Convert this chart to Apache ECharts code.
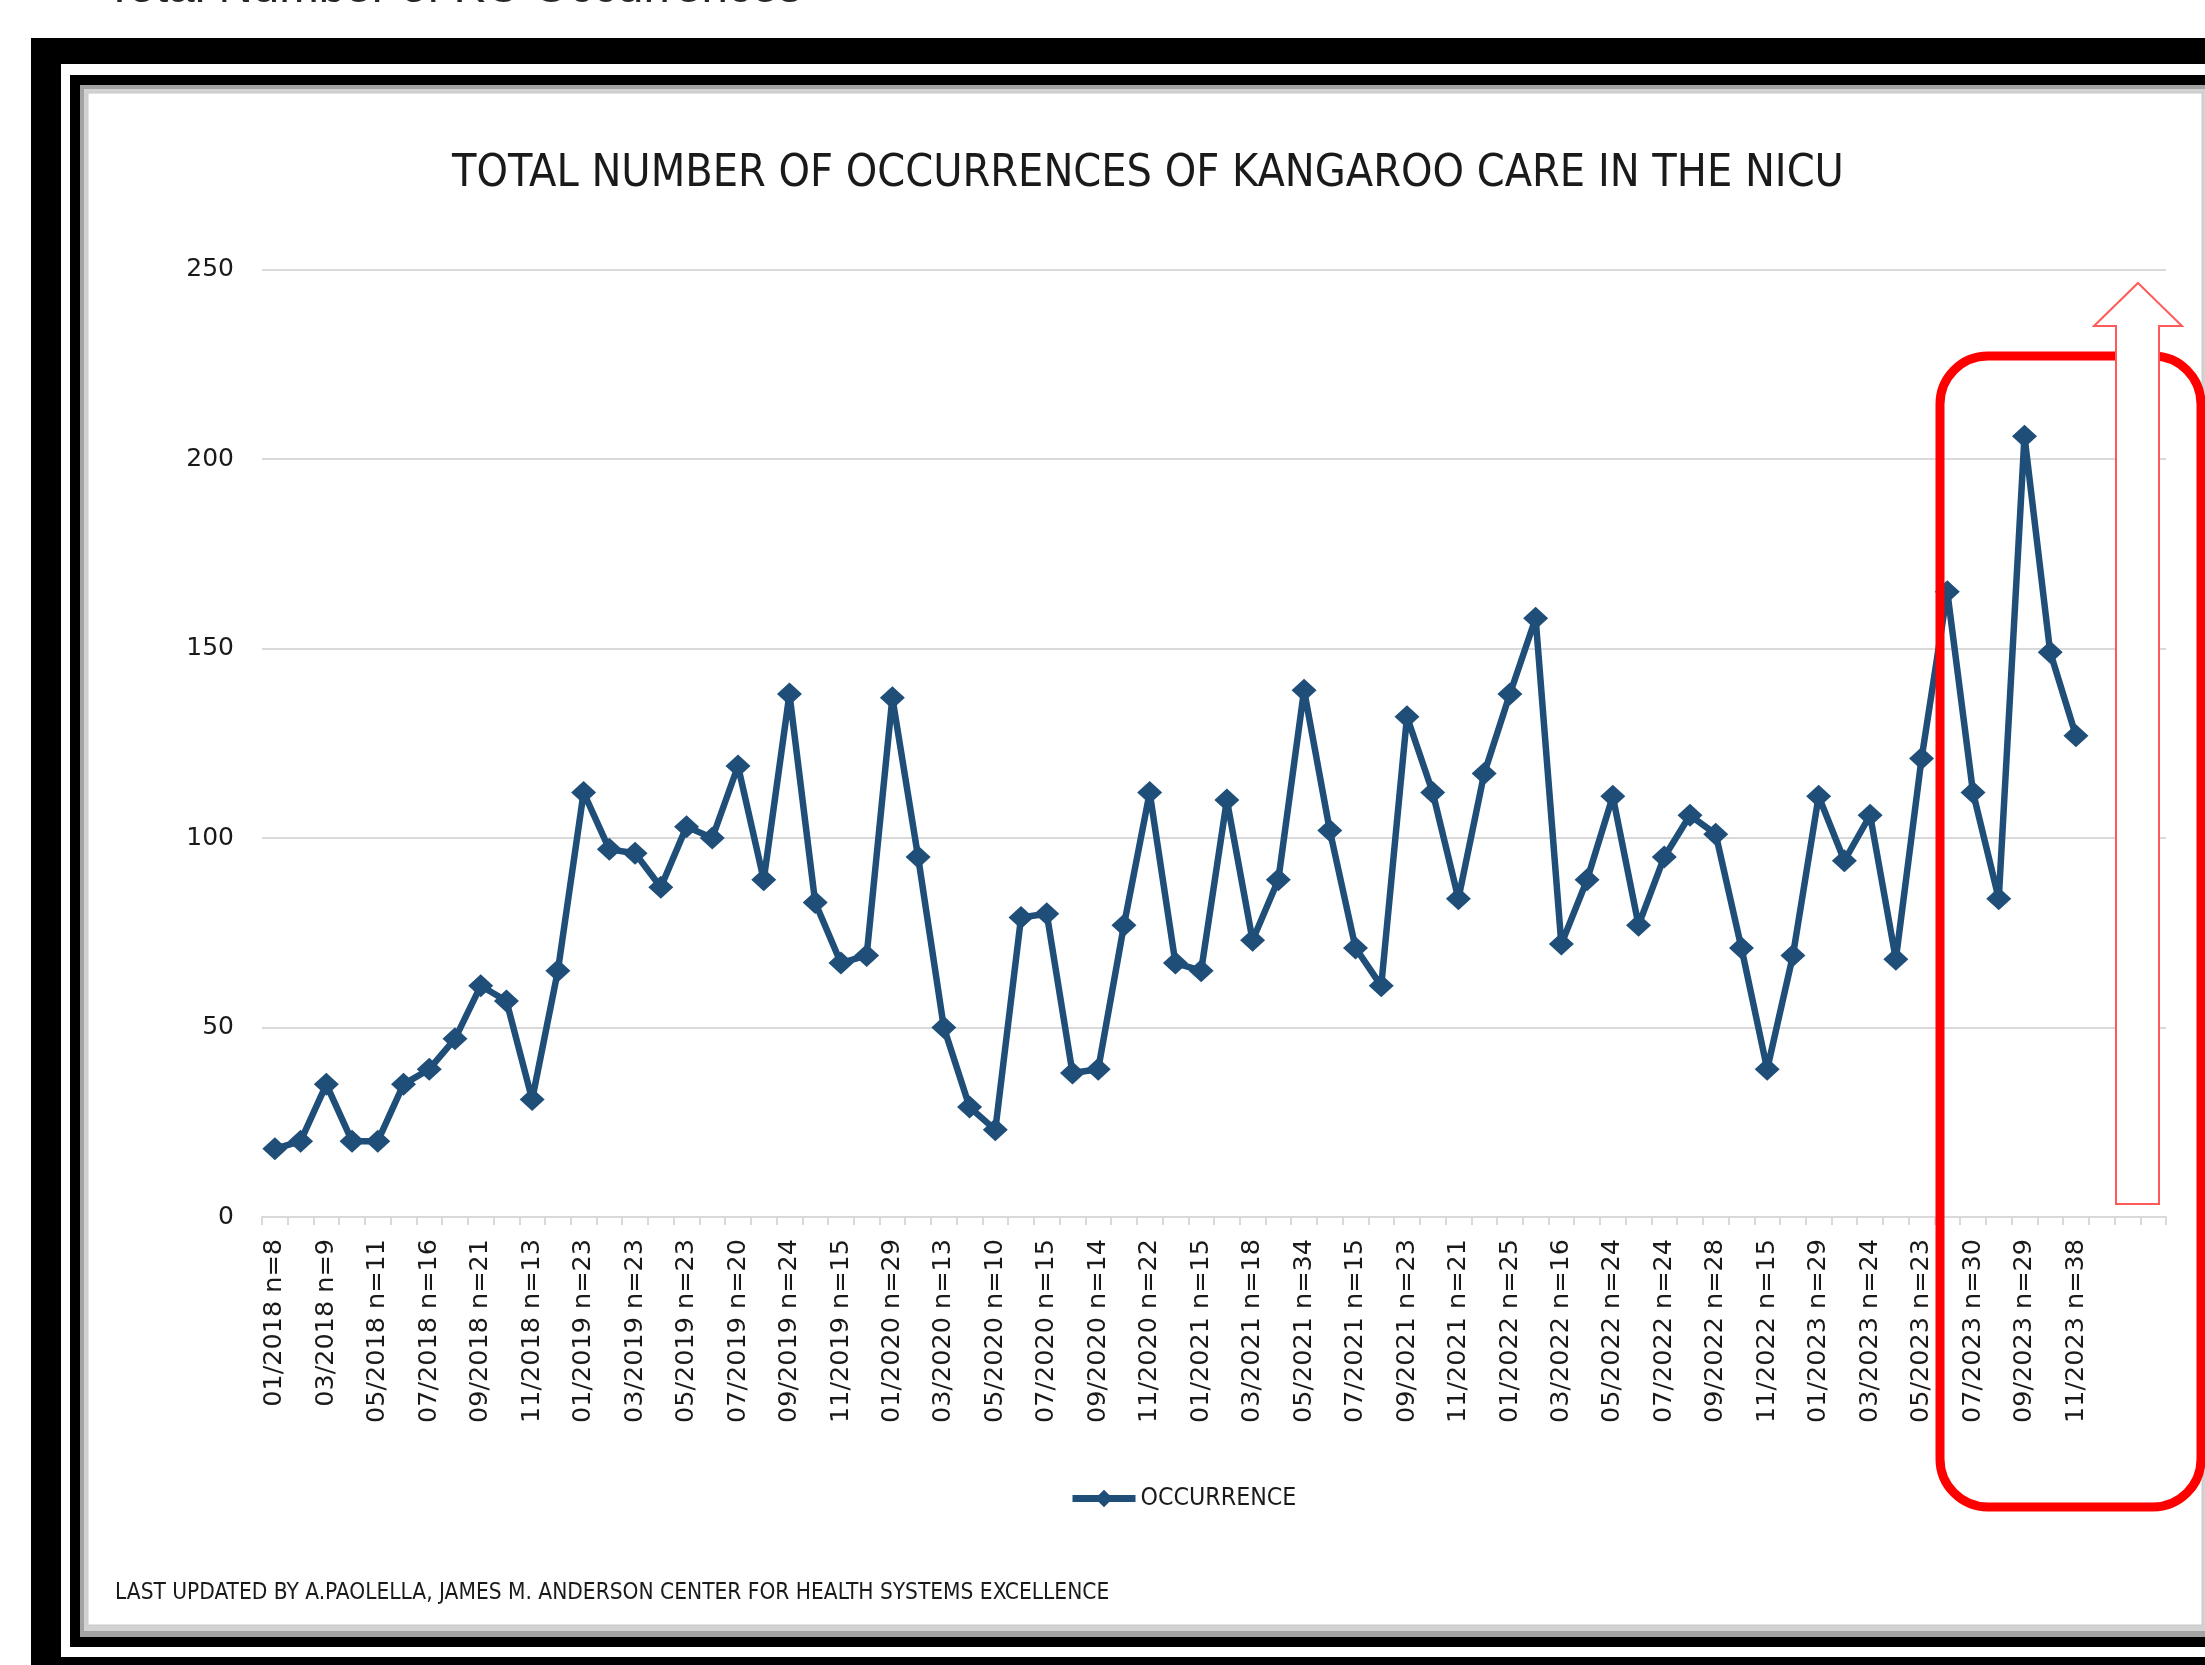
<!DOCTYPE html>
<html>
<head>
<meta charset="utf-8">
<script src="https://cdn.jsdelivr.net/npm/echarts@6/dist/echarts.min.js"></script>
<style>
html,body{margin:0;padding:0;background:#fff;}
#chart{width:2205px;height:1665px;}
</style>
</head>
<body>
<div id="chart"></div>
<script>
// ---- Data ----
const categories = [
'01/2018 n=8','02/2018','03/2018 n=9','04/2018','05/2018 n=11','06/2018','07/2018 n=16','08/2018','09/2018 n=21','10/2018','11/2018 n=13','12/2018',
'01/2019 n=23','02/2019','03/2019 n=23','04/2019','05/2019 n=23','06/2019','07/2019 n=20','08/2019','09/2019 n=24','10/2019','11/2019 n=15','12/2019',
'01/2020 n=29','02/2020','03/2020 n=13','04/2020','05/2020 n=10','06/2020','07/2020 n=15','08/2020','09/2020 n=14','10/2020','11/2020 n=22','12/2020',
'01/2021 n=15','02/2021','03/2021 n=18','04/2021','05/2021 n=34','06/2021','07/2021 n=15','08/2021','09/2021 n=23','10/2021','11/2021 n=21','12/2021',
'01/2022 n=25','02/2022','03/2022 n=16','04/2022','05/2022 n=24','06/2022','07/2022 n=24','08/2022','09/2022 n=28','10/2022','11/2022 n=15','12/2022',
'01/2023 n=29','02/2023','03/2023 n=24','04/2023','05/2023 n=23','06/2023','07/2023 n=30','08/2023','09/2023 n=29','10/2023','11/2023 n=38',
' ','  ','   '
];
const occurrence = [
18, 20, 35, 20, 20, 35, 39, 47, 61, 57, 31, 65,
112, 97, 96, 87, 103, 100, 119, 89, 138, 83, 67, 69,
137, 95, 50, 29, 23, 79, 80, 38, 39, 77, 112, 67,
65, 110, 73, 89, 139, 102, 71, 61, 132, 112, 84, 117,
138, 158, 72, 89, 111, 77, 95, 106, 101, 71, 39, 69,
111, 94, 106, 68, 121, 165, 112, 84, 206, 149, 127
];
const yTicks = {min: 0, max: 250, interval: 50};
const seriesName = 'OCCURRENCE';
const titleText = 'TOTAL NUMBER OF OCCURRENCES OF KANGAROO CARE IN THE NICU';
const footerText = 'LAST UPDATED BY A.PAOLELLA, JAMES M. ANDERSON CENTER FOR HEALTH SYSTEMS EXCELLENCE';
const headerText = 'Total Number of KC Occurrences';

// ---- Styling ----
const narrow = '"Liberation Sans Narrow", "DejaVu Sans Condensed", "Roboto Condensed", sans-serif';
const axisFont = '"DejaVu Sans", Verdana, sans-serif';
const lineColor = '#1f4e79';

const chart = echarts.init(document.getElementById('chart'), null, {renderer: 'canvas'});
chart.setOption({
  animation: false,
  backgroundColor: '#ffffff',
  title: {
    text: titleText,
    left: 1143,
    top: 147,
    textAlign: 'center',
    textStyle: {fontFamily: narrow, fontSize: 44.5, fontWeight: 'normal', color: '#1a1a1a'}
  },
  legend: {
    data: [seriesName],
    left: 1064,
    top: 1481,
    itemWidth: 63,
    itemHeight: 22,
    itemGap: 10,
    lineStyle: {width: 7},
    textStyle: {fontFamily: narrow, fontSize: 24.7, color: '#1a1a1a'}
  },
  grid: {left: 262, right: 39, top: 269.5, bottom: 448, containLabel: false},
  xAxis: {
    type: 'category',
    data: categories,
    boundaryGap: true,
    axisLine: {show: true, lineStyle: {color: '#d9d9d9', width: 2}},
    axisTick: {show: true, interval: 0, length: 8, lineStyle: {color: '#d9d9d9', width: 2}},
    axisLabel: {
      interval: 1, rotate: 90, margin: 22,
      fontFamily: axisFont, fontSize: 25.5, color: '#1a1a1a', hideOverlap: false
    },
    splitLine: {show: false}
  },
  yAxis: {
    type: 'value',
    min: yTicks.min, max: yTicks.max, interval: yTicks.interval,
    axisLine: {show: false},
    axisTick: {show: false},
    axisLabel: {margin: 28, fontFamily: axisFont, fontSize: 25, color: '#1a1a1a'},
    splitLine: {show: true, lineStyle: {color: '#d9d9d9', width: 2}}
  },
  series: [{
    name: seriesName,
    type: 'line',
    data: occurrence,
    symbol: 'diamond',
    symbolSize: [25, 23],
    showAllSymbol: true,
    lineStyle: {color: lineColor, width: 6.5},
    itemStyle: {color: lineColor, borderWidth: 0},
    z: 5
  }],
  graphic: [
    {type: 'rect', silent: true, z: -10, shape: {x: 31, y: 38, width: 2300, height: 1700}, style: {fill: '#000'}},
    {type: 'rect', silent: true, z: -9, shape: {x: 61, y: 64, width: 2300, height: 1593}, style: {fill: '#fff'}},
    {type: 'rect', silent: true, z: -8, shape: {x: 70, y: 75, width: 2300, height: 1572}, style: {fill: '#000'}},
    {type: 'rect', silent: true, z: -7, shape: {x: 80, y: 85, width: 2300, height: 1552}, style: {fill: '#a3a3a3'}},
    {type: 'rect', silent: true, z: -6, shape: {x: 84, y: 89, width: 2300, height: 1542}, style: {fill: '#d2d2d2'}},
    {type: 'rect', silent: true, z: -5, shape: {x: 88, y: 93, width: 2114, height: 1532}, style: {fill: '#fff', stroke: '#c8c8c8', lineWidth: 1}},
    {type: 'text', silent: true, z: 10, style: {x: 105, y: -11, text: headerText, fontFamily: '"Liberation Sans", Arial, sans-serif', fontSize: 47.5, fill: '#262626', verticalAlign: 'middle'}},
    {type: 'text', silent: true, z: 10, style: {x: 115, y: 1593, text: footerText, fontFamily: narrow, fontSize: 22.5, fill: '#1a1a1a', verticalAlign: 'middle'}},
    {type: 'rect', silent: true, z: 50, shape: {x: 1940, y: 356, width: 261, height: 1151, r: 48}, style: {fill: 'none', stroke: '#ff0000', lineWidth: 9}},
    {type: 'polygon', silent: true, z: 60, shape: {points: [[2138,283],[2182,326],[2159,326],[2159,1204],[2116,1204],[2116,326],[2094,326]]}, style: {fill: '#fff', stroke: '#ff5a5a', lineWidth: 2}}
  ]
});
</script>
</body>
</html>
